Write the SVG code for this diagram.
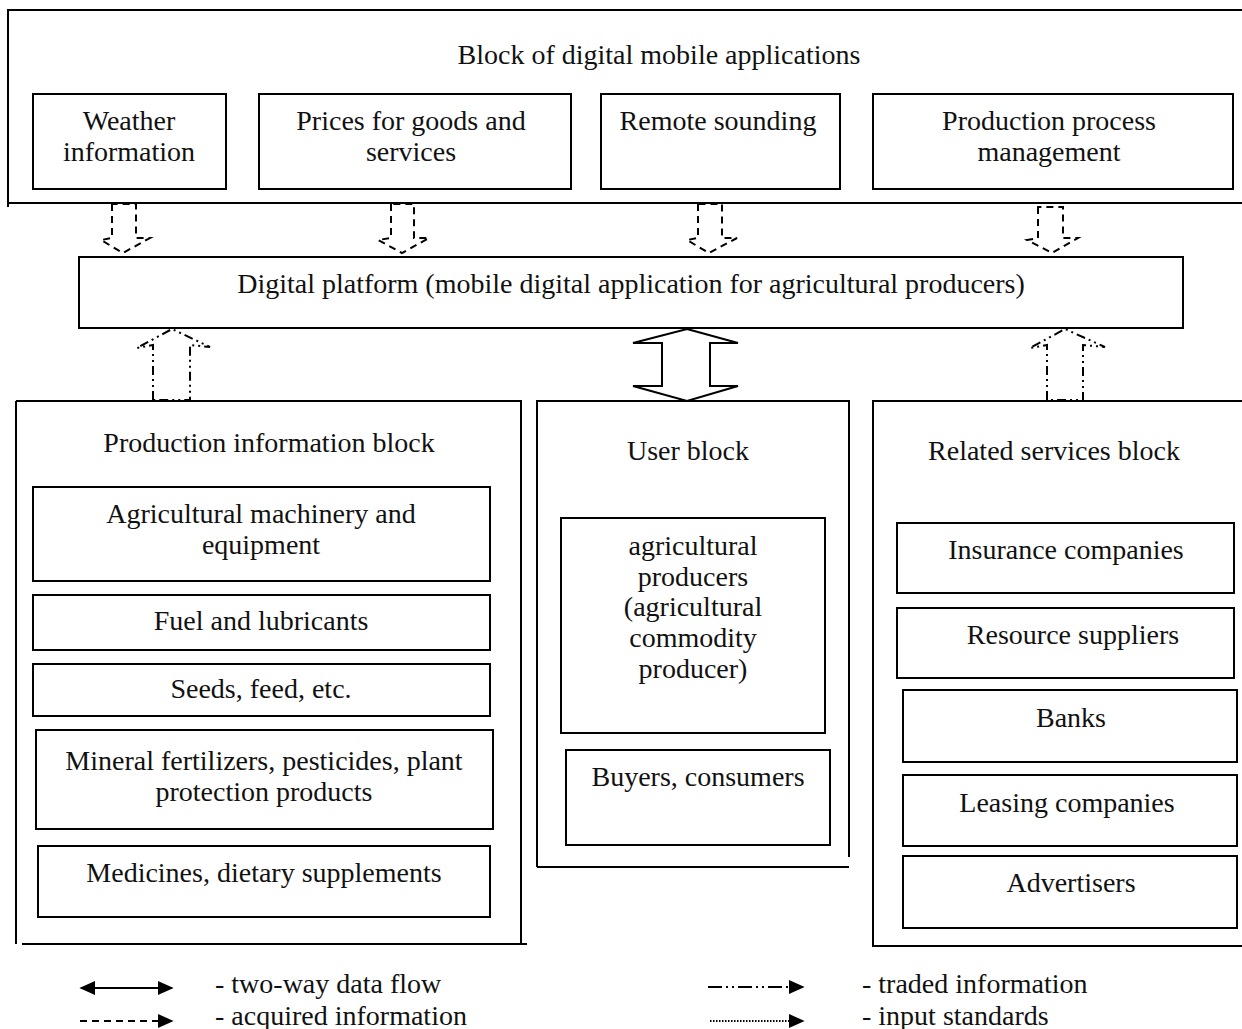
<svg xmlns="http://www.w3.org/2000/svg" width="1242" height="1029" viewBox="0 0 1242 1029">
<defs>
<style>
text{font-family:"Liberation Serif","Times New Roman",serif;font-size:28px;fill:#111;text-anchor:middle}
.box{fill:#fff;stroke:#000;stroke-width:2}
.ln{fill:none;stroke:#000;stroke-width:2}
.dash{fill:none;stroke:#000;stroke-width:2;stroke-dasharray:7,5}
.dd{fill:none;stroke:#000;stroke-width:2;stroke-dasharray:9,4,2,4,2,4}
.leg{text-anchor:start}
</style>
<marker id="ah" viewBox="0 0 10 10" refX="9" refY="5" markerWidth="16" markerHeight="16" markerUnits="userSpaceOnUse" orient="auto-start-reverse"><path d="M0,0.5 L10,5 L0,9.5 Z" fill="#000"/></marker>
</defs>
<rect width="1242" height="1029" fill="#fff"/>

<g id="apps-block">
<path class="ln" d="M1242,10 L8,10 L8,207 M8,203 L1242,203"/>
<text x="659" y="64">Block of digital mobile applications</text>
</g>
<g id="weather"><rect class="box" x="33" y="94" width="193" height="95"/><text x="129" y="130">Weather</text><text x="129" y="161">information</text></g>
<g id="prices"><rect class="box" x="259" y="94" width="312" height="95"/><text x="411" y="130">Prices for goods and</text><text x="411" y="161">services</text></g>
<g id="remote"><rect class="box" x="601" y="94" width="239" height="95"/><text x="718" y="130">Remote sounding</text></g>
<g id="ppm"><rect class="box" x="873" y="94" width="360" height="95"/><text x="1049" y="130">Production process</text><text x="1049" y="161">management</text></g>

<g id="platform"><rect class="box" x="79" y="257" width="1104" height="71"/><text x="631" y="293">Digital platform (mobile digital application for agricultural producers)</text></g>

<g id="production-block">
<path class="ln" d="M16,401 L521,401 L521,944 M16,401 L16,944 M22,944 L527,944"/>
<text x="269" y="452">Production information block</text>
</g>
<g id="machinery"><rect class="box" x="33" y="487" width="457" height="94"/><text x="261" y="523">Agricultural machinery and</text><text x="261" y="554">equipment</text></g>
<g id="fuel"><rect class="box" x="33" y="595" width="457" height="55"/><text x="261" y="630">Fuel and lubricants</text></g>
<g id="seeds"><rect class="box" x="33" y="664" width="457" height="52"/><text x="261" y="698">Seeds, feed, etc.</text></g>
<g id="fertilizers"><rect class="box" x="36" y="730" width="457" height="99"/><text x="264" y="770">Mineral fertilizers, pesticides, plant</text><text x="264" y="801">protection products</text></g>
<g id="medicines"><rect class="box" x="38" y="846" width="452" height="71"/><text x="264" y="882">Medicines, dietary supplements</text></g>

<g id="user-block">
<path class="ln" d="M537,867 L537,401 L849,401 L849,857 M537,867 L849,867"/>
<text x="688" y="460">User block</text>
</g>
<g id="producers"><rect class="box" x="561" y="518" width="264" height="215"/>
<text x="693" y="555">agricultural</text><text x="693" y="586">producers</text><text x="693" y="616">(agricultural</text><text x="693" y="647">commodity</text><text x="693" y="678">producer)</text></g>
<g id="buyers"><rect class="box" x="566" y="750" width="264" height="95"/><text x="698" y="786">Buyers, consumers</text></g>

<g id="services-block">
<path class="ln" d="M1242,401 L873,401 L873,946 L1242,946"/>
<text x="1054" y="460">Related services block</text>
</g>
<g id="insurance"><rect class="box" x="897" y="523" width="337" height="70"/><text x="1066" y="559">Insurance companies</text></g>
<g id="resource"><rect class="box" x="897" y="608" width="337" height="70"/><text x="1073" y="644">Resource suppliers</text></g>
<g id="banks"><rect class="box" x="903" y="690" width="334" height="72"/><text x="1071" y="727">Banks</text></g>
<g id="leasing"><rect class="box" x="903" y="775" width="334" height="71"/><text x="1067" y="812">Leasing companies</text></g>
<g id="advertisers"><rect class="box" x="903" y="856" width="334" height="72"/><text x="1071" y="892">Advertisers</text></g>

<g id="connectors">
<path class="dash" d="M112,204 L112,238 L101,240 L123,253 L150,238 L136,238 L136,204 Z"/>
<path class="dash" d="M391,204 L391,238 L378,240 L402,253 L429,238 L414,238 L414,204 Z"/>
<path class="dash" d="M698,204 L698,238 L687,240 L709,253 L737,238 L722,238 L722,204 Z"/>
<path class="dash" d="M1038,207 L1038,238 L1027,240 L1052,253 L1078,238 L1063,238 L1063,207 Z"/>
<path class="dd" d="M153,400 L153,345 L137,348 L172,329 L210,347 L190,345 L190,400 Z"/>
<path class="dd" d="M1047,400 L1047,345 L1030,348 L1065,329 L1105,347 L1083,345 L1083,400 Z"/>
<path class="ln" d="M687,329 L738,343 L710,343 L710,386 L738,386 L687,401 L633,386 L662,386 L662,343 L633,343 Z"/>
</g>

<g id="legend">
<line class="ln" x1="81" y1="988" x2="172" y2="988" marker-start="url(#ah)" marker-end="url(#ah)"/>
<line class="ln" x1="80" y1="1021" x2="172" y2="1021" stroke-dasharray="7,5" marker-end="url(#ah)"/>
<line class="ln" x1="708" y1="987" x2="803" y2="987" stroke-dasharray="14,4,2,4,2,4" marker-end="url(#ah)"/>
<line class="ln" x1="710" y1="1021" x2="803" y2="1021" stroke-width="1.5" stroke-dasharray="1.5,1.5" marker-end="url(#ah)"/>
<text class="leg" x="215" y="993">- two-way data flow</text>
<text class="leg" x="215" y="1025">- acquired information</text>
<text class="leg" x="862" y="993">- traded information</text>
<text class="leg" x="862" y="1025">- input standards</text>
</g>
</svg>
